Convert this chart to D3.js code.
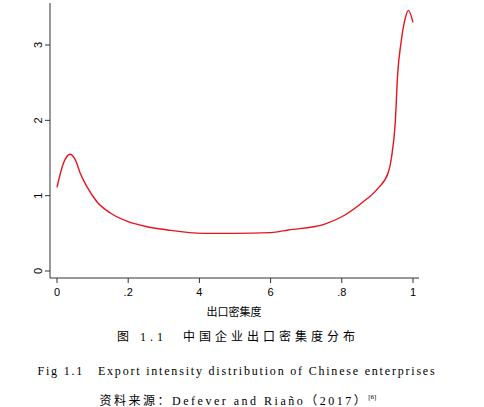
<!DOCTYPE html>
<html><head><meta charset="utf-8">
<script src="https://cdn.jsdelivr.net/npm/d3@7"></script>
<style>body{margin:0;background:#fff}</style></head>
<body><script>
const xs=[0,0.018,0.037,0.054,0.065,0.084,0.112,0.15,0.2,0.25,0.31,0.41,0.5,0.6,0.65,0.75,0.8,0.855,0.902,0.93,0.94,0.95,0.957,0.966,0.978,0.987,1.0];
const ys=[1.11,1.43,1.55,1.45,1.30,1.12,0.92,0.77,0.655,0.59,0.545,0.50,0.50,0.51,0.545,0.62,0.72,0.90,1.10,1.30,1.52,1.96,2.62,3.02,3.35,3.46,3.30];
const xTicks=[0,0.2,0.4,0.6,0.8,1];
const xTickLabels=["0",".2","4","6",".8","1"];
const yTicks=[0,1,2,3];
const xTitle="出口密集度";
const captions=["图 1.1　中国企业出口密集度分布","Fig 1.1　Export intensity distribution of Chinese enterprises","资料来源：Defever and Riaño（2017）"];
const svg=d3.select("body").append("svg").attr("width",484).attr("height",407);
const x=d3.scaleLinear().domain([0,1]).range([57,413]);
const y=d3.scaleLinear().domain([0,3]).range([271,45]);
const g=svg.append("g").style("font-family","Liberation Sans, sans-serif").style("font-size","11px");
g.append("line").attr("x1",50).attr("x2",50).attr("y1",3).attr("y2",278).attr("stroke","#333");
g.append("line").attr("x1",50).attr("x2",419).attr("y1",278).attr("y2",278).attr("stroke","#333");
xTicks.forEach((t,i)=>{g.append("line").attr("x1",x(t)).attr("x2",x(t)).attr("y1",278).attr("y2",283).attr("stroke","#333");
 g.append("text").attr("x",x(t)).attr("y",296).attr("text-anchor","middle").text(xTickLabels[i]);});
yTicks.forEach(t=>{g.append("line").attr("x1",45).attr("x2",50).attr("y1",y(t)).attr("y2",y(t)).attr("stroke","#333");
 g.append("text").attr("transform",`translate(42,${y(t)}) rotate(-90)`).attr("text-anchor","middle").text(t);});
g.append("text").attr("x",234).attr("y",316).attr("text-anchor","middle").style("font-size","11px").style("font-family","Noto Sans CJK SC").text(xTitle);
const line=d3.line().x((d,i)=>x(xs[i])).y(d=>y(d)).curve(d3.curveMonotoneX);
svg.append("path").datum(ys).attr("d",line).attr("fill","none").attr("stroke","#e8131b").attr("stroke-width",1.4);
const c=svg.append("g").attr("text-anchor","middle").style("font-size","12px").style("font-family","Liberation Serif, Noto Sans CJK SC, serif").style("letter-spacing","1.5px");
c.append("text").attr("x",238).attr("y",341).style("letter-spacing","4px").text(captions[0]);
c.append("text").attr("x",237).attr("y",375).style("letter-spacing","1.8px").text(captions[1]);
const t3=c.append("text").attr("x",238).attr("y",405).style("letter-spacing","2.5px").text(captions[2]);
t3.append("tspan").attr("dy",-6).style("font-size","7px").style("letter-spacing","0px").text("[6]");
</script></body></html>
